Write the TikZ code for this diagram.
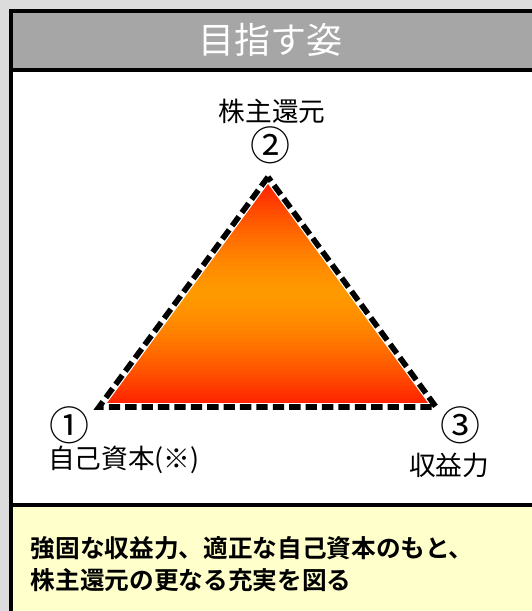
\documentclass[tikz,border=0pt]{standalone}
\usepackage{fontspec}
\newfontfamily\jp{Noto Sans CJK JP}[BoldFont={Noto Sans CJK JP Bold}]
\definecolor{bgGrey}{HTML}{DCDCDC}
\definecolor{headGrey}{HTML}{A6A6A6}
\definecolor{noteYellow}{HTML}{FFFFCC}
\definecolor{tipRed}{HTML}{FF1E00}
\definecolor{midOrange}{HTML}{FF9900}
\tikzset{
  label/.style={font=\jp\fontsize{20}{24}\selectfont, inner sep=0pt},
  num/.style={font=\jp\fontsize{30}{34}\selectfont, inner sep=0pt}
}
\begin{document}
\begin{tikzpicture}[x=0.75pt, y=-0.75pt, line width=3pt]
  \useasboundingbox (0,0) rectangle (532,611);
  \fill[bgGrey] (0,0) rectangle (532,611);
  \begin{scope}
    \clip (0,0) rectangle (532,611);
    \fill[white] (11,10.5) rectangle (560,640);
    \fill[headGrey] (11,10.5) rectangle (560,70);
    \fill[noteYellow] (11,505) rectangle (560,640);
    \draw (11,10.5) rectangle (560,640);
    \draw (11,70) -- (560,70);
    \draw (11,505) -- (560,505);
  \end{scope}
  % triangle, gradient red - orange - red
  \begin{scope}
    \clip (268,181) -- (103,405) -- (433,405) -- cycle;
    \foreach \k in {0,...,57} {
      \pgfmathsetmacro\yy{178+4*\k}
      \pgfmathsetmacro\pct{min(100,100*(abs(\yy+2-294)/112)^1.5)}
      \fill[tipRed!\pct!midOrange] (90,\yy) rectangle (450,\yy+4.6);
    }
  \end{scope}
  \draw[white, line width=6pt, line join=miter] (268,177) -- (99,407) -- (436,407) -- cycle;
  \draw[black, line width=4.2pt, line join=miter, dash pattern=on 8.5pt off 3.8pt]
    (268,177) -- (99,407) -- (436,407) -- cycle;
  % texts
  \node[font=\jp\fontsize{27}{30}\selectfont, text=white, inner sep=0pt] (title) at (270,40) {目指す姿};
  \node[label] (topLbl) at (272,111) {株主還元};
  \node[num] (topNum) at (270,145) {②};
  \node[num] (leftNum) at (70,425) {①};
  \node[label] (leftLbl) at (124,460) {自己資本(※)};
  \node[num] (rightNum) at (460,425) {③};
  \node[label] (rightLbl) at (449,465) {収益力};
  \node[font=\jp\bfseries\fontsize{18.5}{24}\selectfont, align=left, anchor=west, inner sep=0pt] (goal) at (29,564)
    {強固な収益力、適正な自己資本のもと、\\株主還元の更なる充実を図る};
\end{tikzpicture}
\end{document}
